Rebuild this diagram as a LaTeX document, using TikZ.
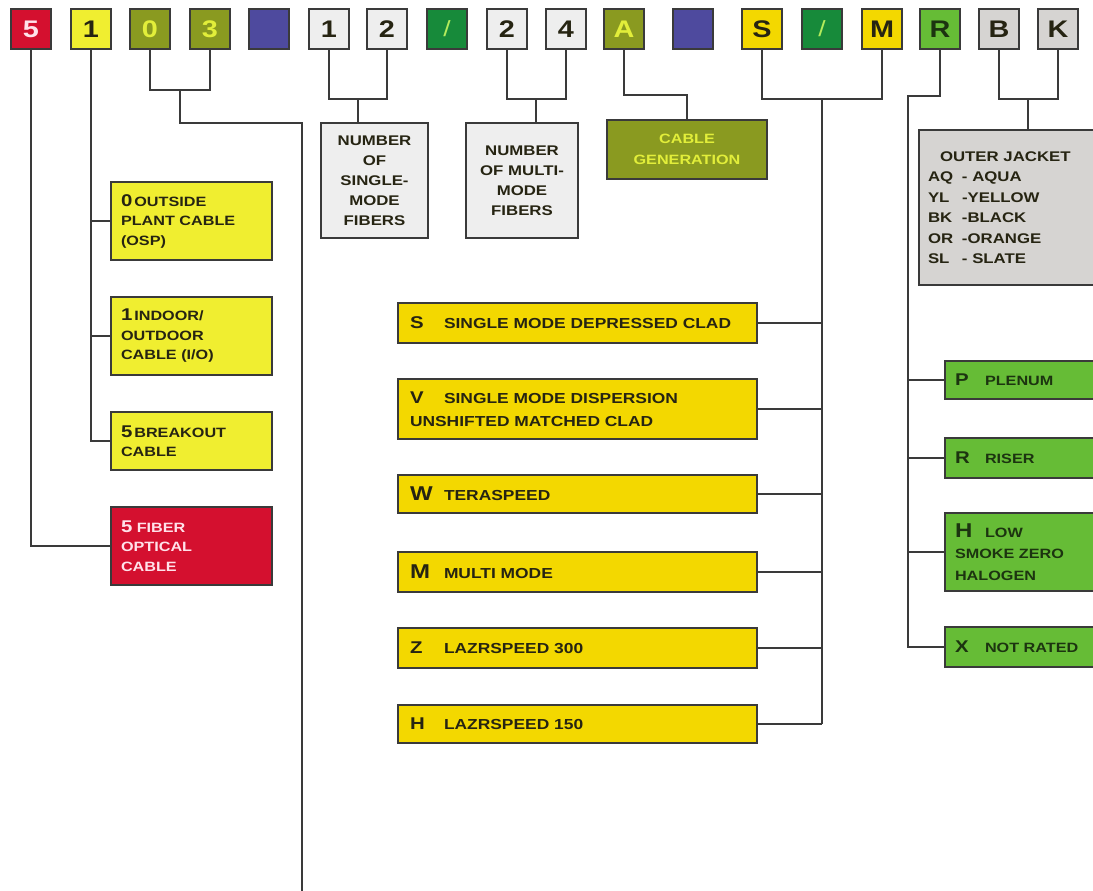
\documentclass[tikz,border=0pt]{standalone}
\usepackage{fontspec}
\setmainfont{Liberation Sans}
\newfontfamily\wf[FakeStretch=1.2]{Liberation Sans}
\usetikzlibrary{calc}
\definecolor{cred}{HTML}{D4102F}
\definecolor{cpink}{HTML}{FFE2EA}
\definecolor{cyel}{HTML}{F0EE30}
\definecolor{colive}{HTML}{8A9A20}
\definecolor{colivetxt}{HTML}{E2EE3A}
\definecolor{cblue}{HTML}{4E4A9E}
\definecolor{clgray}{HTML}{EEEEEE}
\definecolor{cdgreen}{HTML}{178A3A}
\definecolor{cslash}{HTML}{B4EC5C}
\definecolor{cgold}{HTML}{F3D800}
\definecolor{cgreen}{HTML}{66BC36}
\definecolor{cgtxt}{HTML}{1C3410}
\definecolor{cgray}{HTML}{D6D4D2}
\definecolor{cline}{HTML}{3A3A3A}
\definecolor{ctext}{HTML}{262412}
\newcommand\cd[1]{{\fontsize{17}{17}\selectfont #1}}
\newcommand\cdb[1]{{\fontsize{20}{20}\selectfont #1}}
\tikzset{
  bx/.style={draw=cline, line width=2pt, inner sep=0pt, outer sep=0pt},
  topbox/.style={bx, minimum width=40pt, minimum height=40pt,
    font=\wf\bfseries\fontsize{24}{24}\selectfont},
  conn/.style={draw=cline, line width=2pt},
  lbox/.style={bx, fill=cyel, text=ctext, anchor=north west, minimum width=161pt,
    text width=141pt, inner xsep=10pt, align=left,
    font=\wf\bfseries\fontsize{13.5}{19.5}\selectfont},
  nbox/.style={bx, fill=clgray, text=ctext, anchor=north west, align=center,
    font=\wf\bfseries\fontsize{14}{20}\selectfont},
  mbox/.style={bx, fill=cgold, text=ctext, anchor=north west, minimum width=359pt,
    text width=335pt, inner xsep=12pt, align=left,
    font=\wf\bfseries\fontsize{14.5}{22.5}\selectfont},
  gbox/.style={bx, fill=cgreen, text=cgtxt, anchor=north west, minimum width=170pt,
    text width=150pt, inner xsep=10pt, align=left,
    font=\wf\bfseries\fontsize{13.5}{21.3}\selectfont},
}
\begin{document}
\begin{tikzpicture}[x=1pt,y=-1pt]
\useasboundingbox (0,0) rectangle (1093,891);
\clip (0,0) rectangle (1093,891);
\fill[white] (0,0) rectangle (1093,891);

% top code boxes
\node[topbox, fill=cred, text=cpink] (t5) at (31,29) {5};
\node[topbox, fill=cyel, text=ctext] (t1) at (91,29) {1};
\node[topbox, fill=colive, text=colivetxt] (t0) at (150,29) {0};
\node[topbox, fill=colive, text=colivetxt] (t3) at (210,29) {3};
\node[topbox, fill=cblue] (tb1) at (269,29) {};
\node[topbox, fill=clgray, text=ctext] (tn1) at (329,29) {1};
\node[topbox, fill=clgray, text=ctext] (tn2) at (387,29) {2};
\node[topbox, fill=cdgreen, text=cslash, font=\wf\fontsize{22}{22}\selectfont] (ts1) at (447,29) {/};
\node[topbox, fill=clgray, text=ctext] (tm2) at (507,29) {2};
\node[topbox, fill=clgray, text=ctext] (tm4) at (566,29) {4};
\node[topbox, fill=colive, text=colivetxt] (tA) at (624,29) {A};
\node[topbox, fill=cblue] (tb2) at (693,29) {};
\node[topbox, fill=cgold, text=ctext] (tS) at (762,29) {S};
\node[topbox, fill=cdgreen, text=cslash, font=\wf\fontsize{22}{22}\selectfont] (ts2) at (822,29) {/};
\node[topbox, fill=cgold, text=ctext] (tM) at (882,29) {M};
\node[topbox, fill=cgreen, text=cgtxt] (tR) at (940,29) {R};
\node[topbox, fill=cgray, text=ctext] (tB) at (999,29) {B};
\node[topbox, fill=cgray, text=ctext] (tK) at (1058,29) {K};

% left column
\node[lbox, minimum height=78pt] (osp) at (111,182) {\cd{0}\hspace{2pt}OUTSIDE\\PLANT CABLE\\(OSP)};
\node[lbox, minimum height=78pt] (indoor) at (111,297) {\cd{1}\hspace{2pt}INDOOR/\\OUTDOOR\\CABLE (I/O)};
\node[lbox, minimum height=58pt] (breakout) at (111,412) {\cd{5}\hspace{2pt}BREAKOUT\\CABLE};
\node[lbox, minimum height=78pt, fill=cred, text=cpink] (red) at (111,507) {\cd{5} FIBER\\OPTICAL\\CABLE};

% number boxes
\node[nbox, minimum width=107pt, minimum height=115pt] (ns) at (321,123) {NUMBER\\OF\\SINGLE-\\MODE\\FIBERS};
\node[nbox, minimum width=112pt, minimum height=115pt] (nm) at (466,123) {NUMBER\\OF MULTI-\\MODE\\FIBERS};
\node[nbox, fill=colive, text=colivetxt, minimum width=160pt, minimum height=59pt,
  font=\wf\bfseries\fontsize{13.5}{21}\selectfont] (gen) at (607,120) {CABLE\\GENERATION};

% outer jacket
\node[bx, fill=cgray, text=ctext, anchor=north west, minimum width=200pt, minimum height=155pt,
  text width=182pt, inner xsep=9pt, align=left,
  font=\wf\bfseries\fontsize{14}{20.5}\selectfont] (jk) at (919,130)
  {\hspace*{12pt}OUTER JACKET\\
   \makebox[34pt][l]{AQ}- AQUA\\
   \makebox[34pt][l]{YL}-YELLOW\\
   \makebox[34pt][l]{BK}-BLACK\\
   \makebox[34pt][l]{OR}-ORANGE\\
   \makebox[34pt][l]{SL}- SLATE};

% middle (fiber type) boxes
\node[mbox, minimum height=40pt] (mS) at (398,303) {\makebox[34pt][l]{\cd{S}}SINGLE MODE DEPRESSED CLAD};
\node[mbox, minimum height=60pt] (mV) at (398,379) {\makebox[34pt][l]{\cd{V}}SINGLE MODE DISPERSION\\UNSHIFTED MATCHED CLAD};
\node[mbox, minimum height=38pt] (mW) at (398,475) {\makebox[34pt][l]{\cdb{W}}TERASPEED};
\node[mbox, minimum height=40pt] (mM) at (398,552) {\makebox[34pt][l]{\cdb{M}}MULTI MODE};
\node[mbox, minimum height=40pt] (mZ) at (398,628) {\makebox[34pt][l]{\cd{Z}}LAZRSPEED 300};
\node[mbox, minimum height=38pt] (mH) at (398,705) {\makebox[34pt][l]{\cd{H}}LAZRSPEED 150};

% rating boxes
\node[gbox, minimum height=38pt] (gP) at (945,361) {\makebox[30pt][l]{\cd{P}}PLENUM};
\node[gbox, minimum height=40pt] (gR) at (945,438) {\makebox[30pt][l]{\cd{R}}RISER};
\node[gbox, minimum height=78pt] (gH) at (945,513) {\makebox[30pt][l]{\cdb{H}}LOW\\SMOKE ZERO\\HALOGEN};
\node[gbox, minimum height=40pt] (gX) at (945,627) {\makebox[30pt][l]{\cd{X}}NOT RATED};

% junction coordinates
\coordinate (j03) at (180,90);
\coordinate (c03) at (302,123);
\coordinate (e03) at (302,895);
\coordinate (j12) at (358,99);
\coordinate (j24) at (536,99);
\coordinate (jA) at (624,95);
\coordinate (jSM) at (822,99);
\coordinate (jR) at (908,96);
\coordinate (jBK) at (1028,99);

% connectors
\draw[conn] (t5.south) |- (red.west);
\draw[conn] (t1.south) |- (breakout.west);
\draw[conn] (osp.west) -- (osp.west -| t1.south);
\draw[conn] (indoor.west) -- (indoor.west -| t1.south);

\draw[conn] (t0.south) |- (j03) -| (t3.south);
\draw[conn] (j03) |- (c03) -- (e03);

\draw[conn] (tn1.south) |- (j12) -| (tn2.south);
\draw[conn] (j12) -- (j12 |- ns.north);
\draw[conn] (tm2.south) |- (j24) -| (tm4.south);
\draw[conn] (j24) -- (j24 |- nm.north);

\draw[conn] (tA.south) -- (jA) -| (gen.north);

\draw[conn] (tS.south) |- (jSM) -| (tM.south);
\draw[conn] (jSM) -- (jSM |- mH.east);
\foreach \b in {mS,mV,mW,mM,mZ,mH}
  \draw[conn] (\b.east) -- (\b.east -| jSM);

\draw[conn] (tR.south) |- (jR) |- (gX.west);
\foreach \b in {gP,gR,gH}
  \draw[conn] (\b.west) -- (\b.west -| jR);

\draw[conn] (tB.south) |- (jBK) -| (tK.south);
\draw[conn] (jBK) -- (jBK |- jk.north);
\end{tikzpicture}
\end{document}
